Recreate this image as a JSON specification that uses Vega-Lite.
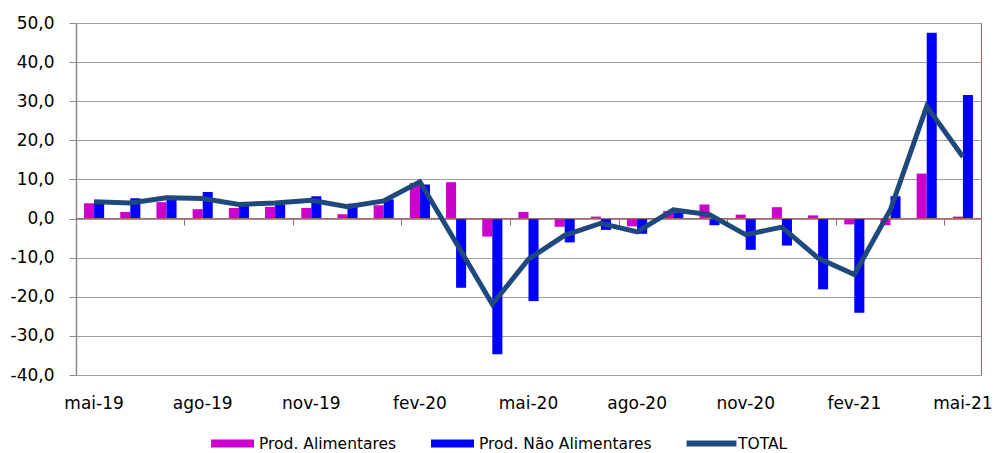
{
  "$schema": "https://vega.github.io/schema/vega-lite/v6.json",
  "width": 905,
  "height": 352,
  "autosize": {"type": "none"},
  "padding": {"left": 76, "top": 23, "right": 14, "bottom": 78},
  "background": "white",
  "config": {
    "view": {"stroke": "#A86464", "strokeWidth": 1},
    "font": "DejaVu Sans",
    "axisY": {
      "title": null,
      "grid": true,
      "gridColor": "#A0A0A0",
      "gridWidth": 1,
      "domainColor": "#8C8C8C",
      "domainWidth": 1.5,
      "tickColor": "#8C8C8C",
      "tickSize": 7,
      "labelPadding": 15,
      "labelFontSize": 17,
      "labelColor": "#000000",
      "labelOverlap": false,
      "labelFlush": false
    }
  },
  "data": {
    "values": [
      {"m": "mai-19", "s": "Prod. Alimentares", "v": 3.9},
      {"m": "jun-19", "s": "Prod. Alimentares", "v": 1.7},
      {"m": "jul-19", "s": "Prod. Alimentares", "v": 4.2},
      {"m": "ago-19", "s": "Prod. Alimentares", "v": 2.4},
      {"m": "set-19", "s": "Prod. Alimentares", "v": 2.7},
      {"m": "out-19", "s": "Prod. Alimentares", "v": 3.0},
      {"m": "nov-19", "s": "Prod. Alimentares", "v": 2.7},
      {"m": "dez-19", "s": "Prod. Alimentares", "v": 1.1},
      {"m": "jan-20", "s": "Prod. Alimentares", "v": 3.4},
      {"m": "fev-20", "s": "Prod. Alimentares", "v": 9.1},
      {"m": "mar-20", "s": "Prod. Alimentares", "v": 9.3},
      {"m": "abr-20", "s": "Prod. Alimentares", "v": -4.6},
      {"m": "mai-20", "s": "Prod. Alimentares", "v": 1.7},
      {"m": "jun-20", "s": "Prod. Alimentares", "v": -2.1},
      {"m": "jul-20", "s": "Prod. Alimentares", "v": 0.5},
      {"m": "ago-20", "s": "Prod. Alimentares", "v": -2.0},
      {"m": "set-20", "s": "Prod. Alimentares", "v": 1.9},
      {"m": "out-20", "s": "Prod. Alimentares", "v": 3.6},
      {"m": "nov-20", "s": "Prod. Alimentares", "v": 1.0},
      {"m": "dez-20", "s": "Prod. Alimentares", "v": 2.9},
      {"m": "jan-21", "s": "Prod. Alimentares", "v": 0.8},
      {"m": "fev-21", "s": "Prod. Alimentares", "v": -1.5},
      {"m": "mar-21", "s": "Prod. Alimentares", "v": -1.7},
      {"m": "abr-21", "s": "Prod. Alimentares", "v": 11.5},
      {"m": "mai-21", "s": "Prod. Alimentares", "v": 0.5},
      {"m": "mai-19", "s": "Prod. Não Alimentares", "v": 4.5},
      {"m": "jun-19", "s": "Prod. Não Alimentares", "v": 5.2},
      {"m": "jul-19", "s": "Prod. Não Alimentares", "v": 5.8},
      {"m": "ago-19", "s": "Prod. Não Alimentares", "v": 6.8},
      {"m": "set-19", "s": "Prod. Não Alimentares", "v": 3.3},
      {"m": "out-19", "s": "Prod. Não Alimentares", "v": 3.6},
      {"m": "nov-19", "s": "Prod. Não Alimentares", "v": 5.7},
      {"m": "dez-19", "s": "Prod. Não Alimentares", "v": 3.8},
      {"m": "jan-20", "s": "Prod. Não Alimentares", "v": 4.9},
      {"m": "fev-20", "s": "Prod. Não Alimentares", "v": 8.7},
      {"m": "mar-20", "s": "Prod. Não Alimentares", "v": -17.7},
      {"m": "abr-20", "s": "Prod. Não Alimentares", "v": -34.7},
      {"m": "mai-20", "s": "Prod. Não Alimentares", "v": -21.1},
      {"m": "jun-20", "s": "Prod. Não Alimentares", "v": -6.1},
      {"m": "jul-20", "s": "Prod. Não Alimentares", "v": -2.9},
      {"m": "ago-20", "s": "Prod. Não Alimentares", "v": -3.9},
      {"m": "set-20", "s": "Prod. Não Alimentares", "v": 1.5},
      {"m": "out-20", "s": "Prod. Não Alimentares", "v": -1.7},
      {"m": "nov-20", "s": "Prod. Não Alimentares", "v": -8.0},
      {"m": "dez-20", "s": "Prod. Não Alimentares", "v": -6.9},
      {"m": "jan-21", "s": "Prod. Não Alimentares", "v": -18.1},
      {"m": "fev-21", "s": "Prod. Não Alimentares", "v": -24.1},
      {"m": "mar-21", "s": "Prod. Não Alimentares", "v": 5.7},
      {"m": "abr-21", "s": "Prod. Não Alimentares", "v": 47.5},
      {"m": "mai-21", "s": "Prod. Não Alimentares", "v": 31.6},
      {"m": "mai-19", "s": "TOTAL", "v": 4.3},
      {"m": "jun-19", "s": "TOTAL", "v": 4.0},
      {"m": "jul-19", "s": "TOTAL", "v": 5.3},
      {"m": "ago-19", "s": "TOTAL", "v": 5.1},
      {"m": "set-19", "s": "TOTAL", "v": 3.6},
      {"m": "out-19", "s": "TOTAL", "v": 4.0},
      {"m": "nov-19", "s": "TOTAL", "v": 4.7},
      {"m": "dez-19", "s": "TOTAL", "v": 3.0},
      {"m": "jan-20", "s": "TOTAL", "v": 4.5},
      {"m": "fev-20", "s": "TOTAL", "v": 9.4},
      {"m": "mar-20", "s": "TOTAL", "v": -6.2},
      {"m": "abr-20", "s": "TOTAL", "v": -21.9},
      {"m": "mai-20", "s": "TOTAL", "v": -10.4},
      {"m": "jun-20", "s": "TOTAL", "v": -4.3},
      {"m": "jul-20", "s": "TOTAL", "v": -1.2},
      {"m": "ago-20", "s": "TOTAL", "v": -3.4},
      {"m": "set-20", "s": "TOTAL", "v": 2.2},
      {"m": "out-20", "s": "TOTAL", "v": 1.0},
      {"m": "nov-20", "s": "TOTAL", "v": -4.1},
      {"m": "dez-20", "s": "TOTAL", "v": -2.2},
      {"m": "jan-21", "s": "TOTAL", "v": -10.1},
      {"m": "fev-21", "s": "TOTAL", "v": -14.3},
      {"m": "mar-21", "s": "TOTAL", "v": 2.3},
      {"m": "abr-21", "s": "TOTAL", "v": 28.7},
      {"m": "mai-21", "s": "TOTAL", "v": 15.8}
    ]
  },
  "resolve": {"axis": {"x": "independent"}},
  "layer": [
    {
      "transform": [{"filter": "datum.s !== 'TOTAL'"}],
      "mark": {"type": "bar"},
      "encoding": {
        "x": {
          "field": "m",
          "type": "ordinal",
          "sort": ["mai-19","jun-19","jul-19","ago-19","set-19","out-19","nov-19","dez-19","jan-20","fev-20","mar-20","abr-20","mai-20","jun-20","jul-20","ago-20","set-20","out-20","nov-20","dez-20","jan-21","fev-21","mar-21","abr-21","mai-21"],
          "scale": {"paddingInner": 0, "paddingOuter": 0},
          "axis": {
            "title": null,
            "orient": "bottom",
            "labelExpr": "indexof(['mai-19','ago-19','nov-19','fev-20','mai-20','ago-20','nov-20','fev-21','mai-21'], datum.value) >= 0 ? datum.value : ''",
            "ticks": false,
            "domain": false,
            "grid": false,
            "labelAngle": 0,
            "labelPadding": 20,
            "labelFontSize": 17,
            "labelColor": "#000000",
            "labelOverlap": false,
            "labelFlush": false,
            "labelBound": false
          }
        },
        "xOffset": {
          "field": "s",
          "type": "nominal",
          "sort": ["Prod. Alimentares", "Prod. Não Alimentares"],
          "scale": {"domain": ["Prod. Alimentares", "Prod. Não Alimentares"], "paddingInner": 0, "paddingOuter": 0.8}
        },
        "y": {
          "field": "v",
          "type": "quantitative",
          "scale": {"domain": [-40, 50], "nice": false, "zero": false},
          "axis": {
            "values": [-40, -30, -20, -10, 0, 10, 20, 30, 40, 50],
            "labelExpr": "datum.value + ',0'"
          }
        },
        "color": {
          "field": "s",
          "type": "nominal",
          "scale": {
            "domain": ["Prod. Alimentares", "Prod. Não Alimentares", "TOTAL"],
            "range": ["#CC00CC", "#0000FF", "#1F497D"]
          },
          "legend": {
            "title": null,
            "orient": "none",
            "direction": "horizontal",
            "legendX": 135,
            "legendY": 399,
            "padding": 0,
            "symbolSize": 1849,
            "labelFontSize": 15.5,
            "labelColor": "#000000",
            "labelOffset": 5,
            "columnPadding": 34,
            "labelLimit": 400,
            "encode": {
              "symbols": {
                "update": {
                  "shape": {"signal": "datum.value === 'TOTAL' ? 'M-1.16,-0.14H1.16V0.14H-1.16Z' : 'M-1,-0.186H1V0.186H-1Z'"},
                  "fill": {"signal": "scale('color', datum.value)"},
                  "stroke": {"value": "transparent"},
                  "strokeWidth": {"value": 0},
                  "opacity": {"value": 1}
                }
              }
            }
          }
        }
      }
    },
    {
      "data": {"values": [{"z": 0}]},
      "mark": {"type": "rule", "color": "#A86464", "strokeWidth": 1.2},
      "encoding": {
        "y": {
          "field": "z",
          "type": "quantitative",
          "axis": {
            "values": [-40, -30, -20, -10, 0, 10, 20, 30, 40, 50],
            "labelExpr": "datum.value + ',0'"
          }
        }
      }
    },
    {
      "transform": [{"filter": "datum.s === 'TOTAL'"}],
      "mark": {"type": "line", "strokeWidth": 5},
      "encoding": {
        "x": {
          "field": "m",
          "type": "ordinal",
          "sort": ["mai-19","jun-19","jul-19","ago-19","set-19","out-19","nov-19","dez-19","jan-20","fev-20","mar-20","abr-20","mai-20","jun-20","jul-20","ago-20","set-20","out-20","nov-20","dez-20","jan-21","fev-21","mar-21","abr-21","mai-21"],
          "axis": {
            "title": null,
            "orient": "bottom",
            "values": ["mai-19","ago-19","nov-19","fev-20","mai-20","ago-20","nov-20","fev-21","mai-21"],
            "labels": false,
            "domain": false,
            "grid": false,
            "ticks": true,
            "tickColor": "#A86464",
            "tickSize": 6,
            "bandPosition": 0,
            "offset": -156
          }
        },
        "y": {
          "field": "v",
          "type": "quantitative",
          "axis": {
            "values": [-40, -30, -20, -10, 0, 10, 20, 30, 40, 50],
            "labelExpr": "datum.value + ',0'"
          }
        },
        "color": {"field": "s", "type": "nominal"}
      }
    }
  ]
}
